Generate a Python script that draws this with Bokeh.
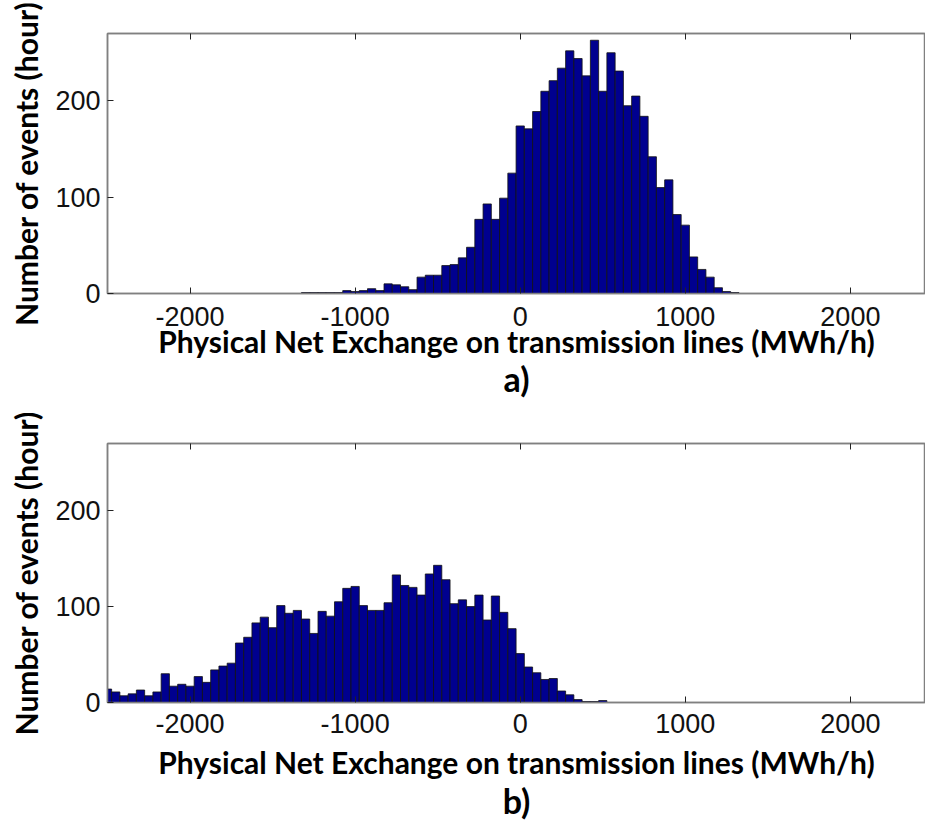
from bokeh.plotting import figure
from bokeh.layouts import column
from bokeh.models import LinearAxis, Range1d, Title, ColumnDataSource, PrintfTickFormatter
from bokeh.embed import file_html
from bokeh.resources import INLINE

# Histogram of hourly physical net exchange, 50 MWh/h bins (bin centres)
BIN_WIDTH = 50

a_centers = list(range(-1300, 1301, 50))
a_counts = [1, 1, 1, 1, 1, 3, 2, 3, 5, 3,
            10, 9, 7, 4, 17, 19, 19, 29, 30, 37,
            48, 77, 93, 77, 99, 125, 174, 171, 189, 210,
            221, 234, 252, 244, 226, 263, 210, 250, 231, 195,
            205, 184, 142, 110, 118, 82, 71, 38, 25, 17,
            6, 2, 1]

b_centers = list(range(-2500, 501, 50))
b_counts = [14, 11, 7, 9, 13, 7, 11, 30, 17, 19,
            17, 27, 21, 34, 38, 41, 62, 68, 83, 89,
            78, 101, 93, 96, 87, 72, 95, 90, 105, 119,
            121, 101, 96, 96, 104, 133, 122, 120, 112, 134,
            143, 128, 103, 107, 100, 112, 86, 111, 94, 77,
            51, 37, 31, 24, 25, 12, 8, 3, 1, 1,
            2]

x_ticks = [-2000, -1000, 0, 1000, 2000]
y_ticks = [0, 100, 200]

x_label = "Physical Net Exchange on transmission lines (MWh/h)"
y_label = "Number of events (hour)"

BAR_FILL = "#00008F"
FRAME = "#808080"
LABEL_FONT = "Lato"
TICK_FONT = "Liberation Sans"


def style_axis(ax, ticks):
    ax.ticker = ticks
    ax.formatter = PrintfTickFormatter(format="%d")
    ax.axis_line_color = FRAME
    ax.axis_line_width = 1.5
    ax.major_tick_in = 6
    ax.major_tick_out = 0
    ax.major_tick_line_color = "#222222"
    ax.minor_tick_line_color = None
    ax.major_label_text_font = TICK_FONT
    ax.major_label_text_font_size = "27px"
    ax.major_label_text_color = "#111111"


def panel(centers, counts, tag, height, top, bottom,
          tick_gap, label_gap, tag_gap):
    p = figure(width=925, height=height, output_backend="svg", toolbar_location=None,
               x_range=Range1d(-2500, 2455), y_range=Range1d(0, 270),
               min_border_left=107, min_border_right=0,
               min_border_top=top, min_border_bottom=bottom)
    src = ColumnDataSource(dict(x=centers, top=counts))
    p.vbar(x="x", top="top", bottom=0, width=BIN_WIDTH, source=src,
           fill_color=BAR_FILL, line_color="#111111", line_width=0.8)

    p.grid.visible = False
    p.background_fill_color = "white"
    p.border_fill_color = "white"
    p.outline_line_color = FRAME
    p.outline_line_width = 1.5

    style_axis(p.xaxis[0], x_ticks)
    style_axis(p.yaxis[0], y_ticks)
    p.xaxis.major_label_standoff = tick_gap
    p.yaxis.major_label_standoff = 7

    p.xaxis.axis_label = x_label
    p.yaxis.axis_label = y_label
    for ax in (p.xaxis[0], p.yaxis[0]):
        ax.axis_label_text_font = LABEL_FONT
        ax.axis_label_text_font_style = "bold"
        ax.axis_label_text_font_size = "30px"
        ax.axis_label_text_color = "black"
    p.xaxis.axis_label_standoff = label_gap
    p.yaxis.axis_label_standoff = 8

    # mirrored ticks along the top edge, without labels
    top_axis = LinearAxis()
    style_axis(top_axis, x_ticks)
    top_axis.major_label_text_color = None
    top_axis.major_label_text_font_size = "8px"
    top_axis.major_label_standoff = 0
    p.add_layout(top_axis, "above")

    p.add_layout(Title(text=tag, align="center", text_font=LABEL_FONT,
                       text_font_style="bold", text_font_size="34px",
                       text_color="black", standoff=tag_gap), "below")
    return p


p_a = panel(a_centers, a_counts, "a)", 410, 33, 117, 13, -6, -11)
p_b = panel(b_centers, b_counts, "b)", 417, 33, 125, 11, 8, -9)

layout = column(p_a, p_b, spacing=0)
open("out.html", "w").write(file_html(layout, INLINE))
